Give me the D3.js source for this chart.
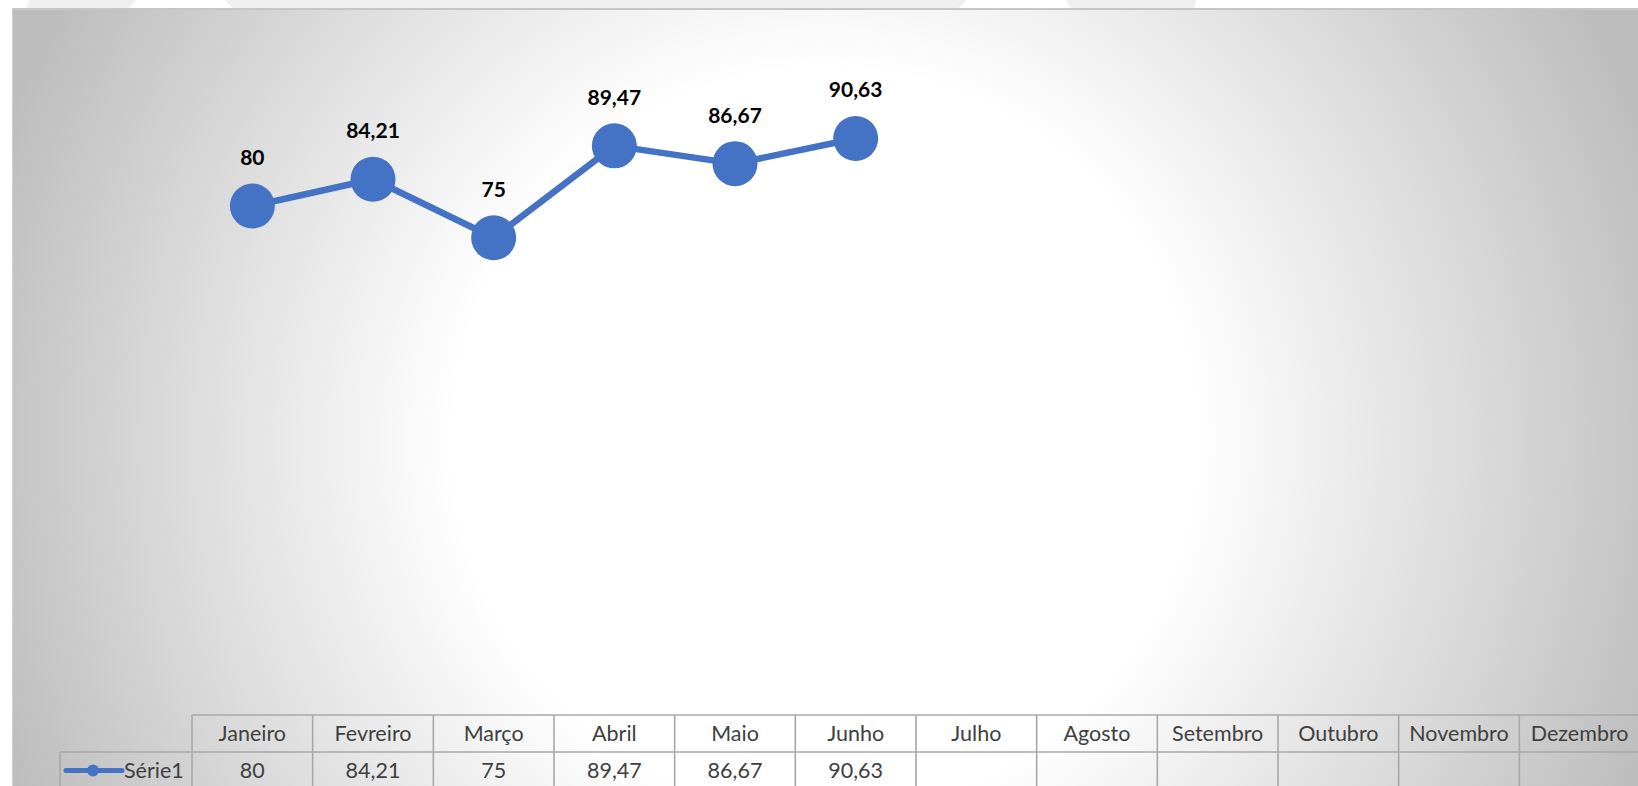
<!DOCTYPE html>
<html>
<head>
<meta charset="utf-8">
<script src="https://cdn.jsdelivr.net/npm/d3@7"></script>
<style>
  html, body { margin: 0; padding: 0; background: #ffffff; }
  svg { display: block; }
  text { font-family: Lato, "Open Sans", "Noto Sans", sans-serif; }
</style>
</head>
<body>
<svg id="chart" width="1638" height="786"></svg>
<script>
// Months shown along the category axis / data table
const months = ["Janeiro", "Fevreiro", "Março", "Abril", "Maio", "Junho",
                "Julho", "Agosto", "Setembro", "Outubro", "Novembro", "Dezembro"];
// Série1 values (first six months filled)
const serie1 = [80, 84.21, 75, 89.47, 86.67, 90.63];
const seriesName = "Série1";
// Value axis domain
const yDomain = [0, 100];

const W = 1638, H = 786;
const blue = "#4472C4";
const svg = d3.select("#chart");

// Brazilian number formatting (comma as decimal separator)
const ptBR = d3.formatLocale({ decimal: ",", thousands: ".", grouping: [3], currency: ["R$", ""] });
const fmt = ptBR.format(".4~g");

// --- background -----------------------------------------------------------
const defs = svg.append("defs");
const grad = defs.append("radialGradient")
  .attr("id", "bg")
  .attr("gradientUnits", "userSpaceOnUse")
  .attr("cx", 825).attr("cy", 440).attr("r", 880);
grad.append("stop").attr("offset", 0).attr("stop-color", "#ffffff");
grad.append("stop").attr("offset", 0.42).attr("stop-color", "#ffffff");
grad.append("stop").attr("offset", 1).attr("stop-color", "#bdbdbd");

// faint shapes in the strip above the chart
const strip = svg.append("g").attr("fill", "#efefef");
[
  [[30, 0], [136, 0], [128, 9], [26, 9]],
  [[225, 0], [966, 0], [958, 9], [233, 9]],
  [[1066, 0], [1196, 0], [1194, 9], [1072, 9]]
].forEach(p => strip.append("polygon").attr("points", p.map(d => d.join(",")).join(" ")));

svg.append("rect")
  .attr("x", 12.5).attr("y", 9).attr("width", W - 12.5).attr("height", H - 9)
  .attr("fill", "url(#bg)");
svg.append("line")
  .attr("x1", 12).attr("x2", W).attr("y1", 9).attr("y2", 9)
  .attr("stroke", "#c6c6c6").attr("stroke-width", 2);
svg.append("line")
  .attr("x1", 12.5).attr("x2", 12.5).attr("y1", 9).attr("y2", H)
  .attr("stroke", "#d2d2d2").attr("stroke-width", 1);

// --- scales ---------------------------------------------------------------
const x = d3.scaleBand().domain(months).range([192, 1640]).padding(0);
const y = d3.scaleLinear().domain(yDomain).range([714, 79]);
const cx = (d, i) => x(months[i]) + x.bandwidth() / 2;

const pts = serie1.map((v, i) => ({ v, i }));

// --- line + markers -------------------------------------------------------
const line = d3.line().x(d => cx(d, d.i)).y(d => y(d.v));
svg.append("path")
  .datum(pts)
  .attr("d", line)
  .attr("fill", "none")
  .attr("stroke", blue)
  .attr("stroke-width", 6.5)
  .attr("stroke-linejoin", "round");

svg.append("g").selectAll("circle")
  .data(pts)
  .join("circle")
  .attr("cx", d => cx(d, d.i))
  .attr("cy", d => y(d.v))
  .attr("r", 22.5)
  .attr("fill", blue);

svg.append("g").selectAll("text")
  .data(pts)
  .join("text")
  .attr("x", d => cx(d, d.i))
  .attr("y", d => y(d.v) - 41)
  .attr("text-anchor", "middle")
  .attr("font-size", 21)
  .attr("font-weight", 700)
  .attr("fill", "#000000")
  .text(d => fmt(d.v));

// --- data table -----------------------------------------------------------
const tTop = 715, tMid = 752, tBot = 789;
const tLeft = 60, hLeft = 192, tRight = 1640;
const grid = svg.append("g").attr("stroke", "#a8a8a8").attr("stroke-width", 1.6).attr("fill", "none");
grid.append("line").attr("x1", hLeft).attr("x2", tRight).attr("y1", tTop).attr("y2", tTop);
grid.append("line").attr("x1", tLeft).attr("x2", tRight).attr("y1", tMid).attr("y2", tMid);
grid.append("line").attr("x1", tLeft).attr("x2", tLeft).attr("y1", tMid).attr("y2", tBot);
months.forEach(m => {
  grid.append("line").attr("x1", x(m)).attr("x2", x(m)).attr("y1", tTop).attr("y2", tBot);
});
grid.append("line").attr("x1", tRight).attr("x2", tRight).attr("y1", tTop).attr("y2", tBot);

const tableText = svg.append("g")
  .attr("font-size", 21.5)
  .attr("fill", "#404040")
  .attr("text-anchor", "middle");
tableText.selectAll("text.head")
  .data(months)
  .join("text")
  .attr("class", "head")
  .attr("x", m => x(m) + x.bandwidth() / 2)
  .attr("y", 741)
  .text(m => m);
tableText.selectAll("text.val")
  .data(pts)
  .join("text")
  .attr("class", "val")
  .attr("x", d => cx(d, d.i))
  .attr("y", 778)
  .text(d => fmt(d.v));

// legend key in the row header
const key = svg.append("g");
key.append("line")
  .attr("x1", 66).attr("x2", 122).attr("y1", 770.5).attr("y2", 770.5)
  .attr("stroke", blue).attr("stroke-width", 5).attr("stroke-linecap", "round");
key.append("circle").attr("cx", 93).attr("cy", 770.5).attr("r", 6).attr("fill", blue);
key.append("text")
  .attr("x", 124).attr("y", 778)
  .attr("font-size", 21.5).attr("fill", "#404040")
  .text(seriesName);
</script>
</body>
</html>
